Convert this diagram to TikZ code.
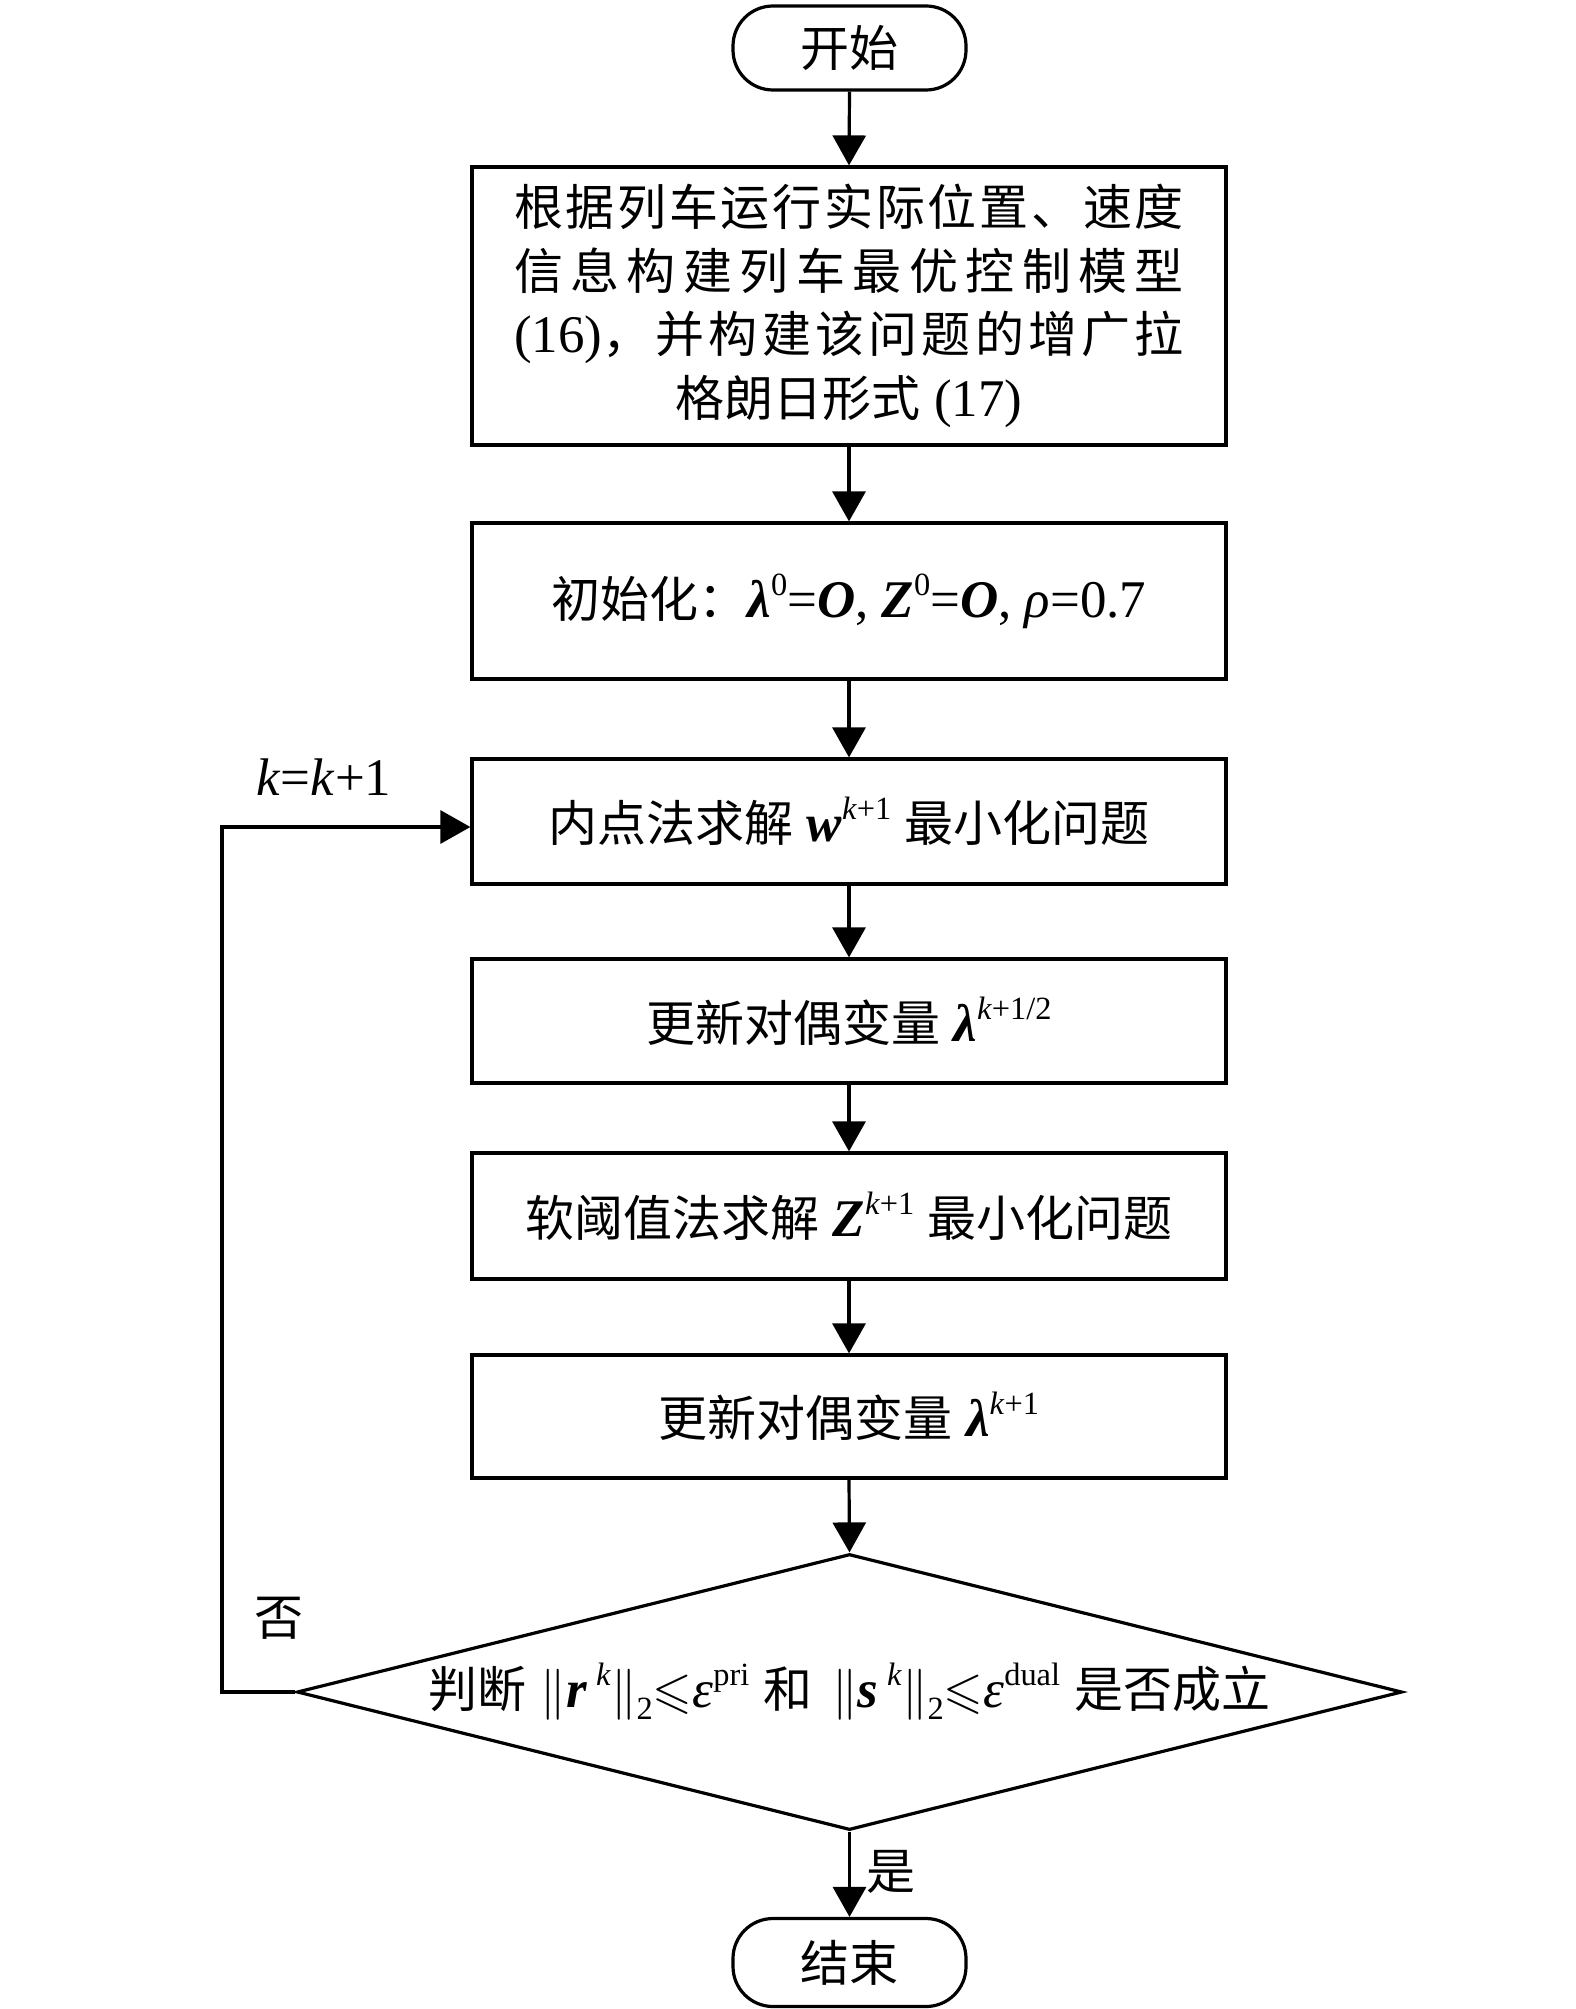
\documentclass[tikz,border=0pt]{standalone}
\usepackage{fontspec}
\usepackage{amssymb}
\usepackage{graphicx}
\setmainfont{Liberation Serif}[Scale=1.08]
\newfontfamily\cjk{Noto Sans CJK SC}
\usetikzlibrary{arrows.meta,shapes.geometric}

\newcommand\bi[1]{\textbf{\textit{#1}}}
\newcommand\supx[1]{\raisebox{0.42em}{\fontsize{30}{30}\selectfont #1}}
\newcommand\subx[1]{\raisebox{-0.22em}{\fontsize{30}{30}\selectfont #1}}
\newcommand\leqs{\scalebox{2.05}{\fontsize{24.88}{25}\selectfont$\leqslant$}}
\newcommand\nrm{\scalebox{2.05}{\fontsize{24.88}{25}\selectfont$\|$}}

\tikzset{
  lnw/.style={line width=3.2pt, draw=black},
  fnt/.style={font=\fontsize{49}{63.5}\selectfont},
  proc/.style={lnw, fnt, rectangle, minimum width=754pt, inner sep=0pt, align=center},
  term/.style={lnw, fnt, rectangle, rounded corners=40pt, minimum width=233pt, inner sep=0pt},
  decide/.style={lnw, diamond, minimum width=1105pt, minimum height=276pt, inner sep=0pt},
  arr/.style={line width=3.2pt, -{Triangle[width=33pt,length=30pt]}},
  lbl/.style={fnt, inner sep=0pt}
}

\begin{document}
\begin{tikzpicture}[x=1pt,y=-1pt]
\useasboundingbox (0,0) rectangle (1575,2009);

\node[term, minimum height=84pt] (start) at (849.5,48) {\cjk 开始};

\node[proc, minimum height=278pt] (b1) at (849,306) {%
\makebox[670pt]{\cjk 根\hfill 据\hfill 列\hfill 车\hfill 运\hfill 行\hfill 实\hfill 际\hfill 位\hfill 置\hfill 、\hfill 速\hfill 度}\\
\makebox[670pt]{\cjk 信\hfill 息\hfill 构\hfill 建\hfill 列\hfill 车\hfill 最\hfill 优\hfill 控\hfill 制\hfill 模\hfill 型}\\
\makebox[670pt]{(16){\cjk ，\hfill 并\hfill 构\hfill 建\hfill 该\hfill 问\hfill 题\hfill 的\hfill 增\hfill 广\hfill 拉}}\\
{\cjk 格朗日形式} (17)};

\node[proc, minimum height=156pt] (b2) at (849,601)
  {{\cjk 初始化：}\bi{λ}\supx{0}=\bi{O}, \bi{Z}\supx{0}=\bi{O}, \textit{ρ}=0.7};

\node[proc, minimum height=125pt] (b3) at (849,821.5)
  {{\cjk 内点法求解} \bi{w}\supx{\textit{k}+1} {\cjk 最小化问题}};

\node[proc, minimum height=124pt] (b4) at (849,1021)
  {{\cjk 更新对偶变量} \bi{λ}\supx{\textit{k}+1/2}};

\node[proc, minimum height=126pt] (b5) at (849,1216)
  {{\cjk 软阈值法求解} \bi{Z}\supx{\textit{k}+1} {\cjk 最小化问题}};

\node[proc, minimum height=123pt] (b6) at (849,1416.5)
  {{\cjk 更新对偶变量} \bi{λ}\supx{\textit{k}+1}};

\node[decide] (dec) at (849.5,1692) {};
\node[lbl] (dectext) at (dec.center)
  {{\cjk 判断}\hspace{14pt}\nrm\bi{r}\,\supx{\textit{k}}\nrm\subx{2}\leqs\textit{ε}\supx{pri}\hspace{14pt}{\cjk 和}\hspace{20pt}\nrm\bi{s}\,\supx{\textit{k}}\nrm\subx{2}\leqs\textit{ε}\supx{dual}\hspace{14pt}{\cjk 是否成立}};

\node[term, minimum height=88pt] (end) at (849.5,1962.5) {\cjk 结束};

\coordinate (loopc) at (222,827);

\draw[arr] (start.south) -- (b1.north);
\draw[arr] (b1.south) -- (b2.north);
\draw[arr] (b2.south) -- (b3.north);
\draw[arr] (b3.south) -- (b4.north);
\draw[arr] (b4.south) -- (b5.north);
\draw[arr] (b5.south) -- (b6.north);
\draw[arr] (b6.south) -- (dec.north);
\draw[arr] (dec.south) -- (end.north);
\draw[arr] (dec.west) -| (loopc) -- (b3.west |- loopc);

\node[lbl] (kk) at (324,777) {\textit{k}=\textit{k}+1};
\node[lbl] (no) at (279,1618) {\cjk 否};
\node[lbl] (yes) at (891,1872) {\cjk 是};
\end{tikzpicture}
\end{document}
